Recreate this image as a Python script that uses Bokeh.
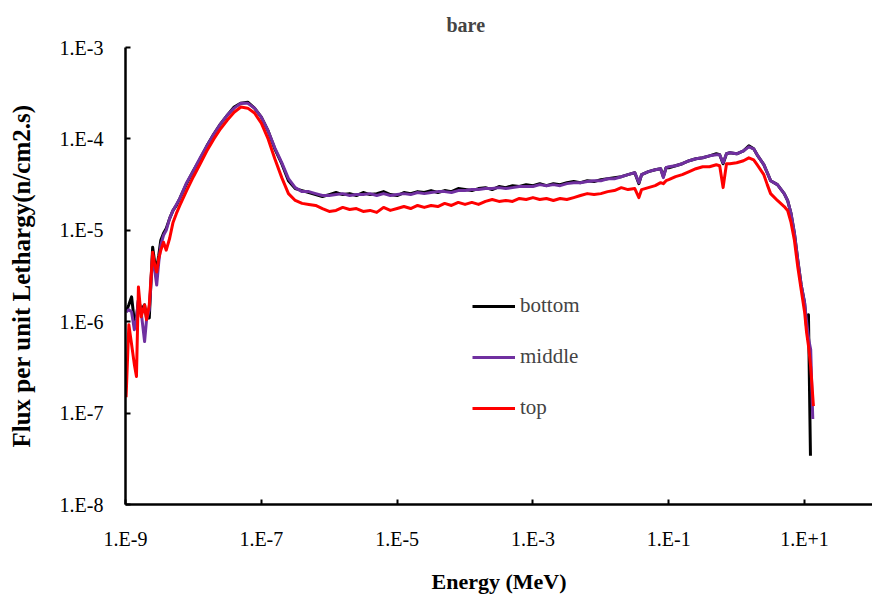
from bokeh.plotting import figure
from bokeh.models import Range1d, FixedTicker, CustomJSTickFormatter, Legend, LegendItem
from bokeh.embed import file_html
from bokeh.resources import INLINE

# Energy grid (MeV), shared by the three series
energy = [
    1.02e-9, 1.12e-9, 1.23e-9, 1.35e-9, 1.45e-9, 1.55e-9, 1.70e-9, 1.91e-9, 2.04e-9, 2.24e-9,
    2.51e-9, 2.69e-9, 2.88e-9, 3.09e-9, 3.31e-9, 3.63e-9, 3.98e-9, 4.47e-9, 5.01e-9, 5.62e-9,
    6.31e-9, 7.94e-9, 1.0e-8, 1.26e-8, 1.58e-8, 2.0e-8, 2.51e-8, 3.16e-8, 3.98e-8, 5.01e-8,
    6.31e-8, 7.94e-8, 1.0e-7, 1.26e-7, 1.58e-7, 2.0e-7, 2.51e-7, 3.16e-7, 3.98e-7, 5.01e-7,
    6.31e-7, 7.94e-7, 1.0e-6, 1.26e-6, 1.58e-6, 2.0e-6, 2.51e-6, 3.16e-6, 3.98e-6, 5.01e-6,
    6.31e-6, 7.94e-6, 1.0e-5, 1.26e-5, 1.58e-5, 2.0e-5, 2.51e-5, 3.16e-5, 3.98e-5, 5.01e-5,
    6.31e-5, 7.94e-5, 1.0e-4, 1.26e-4, 1.58e-4, 2.0e-4, 2.51e-4, 3.16e-4, 3.98e-4, 5.01e-4,
    6.31e-4, 7.94e-4, 1.0e-3, 1.26e-3, 1.58e-3, 2.0e-3, 2.51e-3, 3.16e-3, 3.98e-3, 5.01e-3,
    6.31e-3, 7.94e-3, 1.0e-2, 1.26e-2, 1.58e-2, 2.0e-2, 2.51e-2, 3.16e-2, 3.63e-2, 3.98e-2,
    5.01e-2, 6.31e-2, 7.59e-2, 8.32e-2, 9.12e-2, 0.1, 0.126, 0.158, 0.2, 0.251,
    0.316, 0.398, 0.501, 0.562, 0.631, 0.708, 0.794, 1.0, 1.26, 1.51,
    1.78, 2.0, 2.51, 2.82, 3.16, 3.98, 5.01, 5.62, 6.31, 7.08,
    7.94, 8.91, 10.0,
]

bottom_flux = [
    1.28e-6, 1.53e-6, 1.87e-6, 1.00e-6, 1.10e-6, 1.73e-6, 1.35e-6, 1.53e-6, 1.10e-6, 1.10e-6,
    6.53e-6, 4.49e-6, 3.86e-6, 5.35e-6, 7.78e-6, 9.27e-6, 1.05e-5, 1.35e-5, 1.65e-5, 1.87e-5,
    2.23e-5, 3.24e-5, 4.49e-5, 6.06e-5, 8.39e-5, 1.13e-4, 1.46e-4, 1.82e-4, 2.23e-4, 2.46e-4,
    2.52e-4, 2.17e-4, 1.73e-4, 1.22e-4, 7.78e-5, 5.35e-5, 3.49e-5, 2.86e-5, 2.72e-5, 2.59e-5,
    2.46e-5, 2.34e-5, 2.46e-5, 2.59e-5, 2.46e-5, 2.52e-5, 2.40e-5, 2.59e-5, 2.46e-5, 2.52e-5,
    2.65e-5, 2.46e-5, 2.40e-5, 2.59e-5, 2.52e-5, 2.65e-5, 2.59e-5, 2.72e-5, 2.59e-5, 2.72e-5,
    2.65e-5, 2.86e-5, 2.79e-5, 2.72e-5, 2.86e-5, 2.93e-5, 2.79e-5, 3.01e-5, 2.93e-5, 3.08e-5,
    3.01e-5, 3.16e-5, 3.08e-5, 3.24e-5, 3.08e-5, 3.24e-5, 3.16e-5, 3.32e-5, 3.41e-5, 3.32e-5,
    3.49e-5, 3.41e-5, 3.58e-5, 3.67e-5, 3.77e-5, 3.86e-5, 4.06e-5, 4.27e-5, 3.24e-5, 4.06e-5,
    4.38e-5, 4.60e-5, 4.72e-5, 3.86e-5, 4.84e-5, 4.84e-5, 5.09e-5, 5.35e-5, 5.77e-5, 6.06e-5,
    6.21e-5, 6.53e-5, 6.87e-5, 6.70e-5, 5.35e-5, 6.87e-5, 7.05e-5, 6.87e-5, 7.41e-5, 8.39e-5,
    7.78e-5, 6.70e-5, 5.22e-5, 4.27e-5, 3.49e-5, 3.16e-5, 2.52e-5, 2.12e-5, 1.53e-5, 9.27e-6,
    4.72e-6, 2.52e-6, 1.61e-6,
]

middle_flux = [
    1.28e-6, 1.35e-6, 1.28e-6, 8.18e-7, 1.05e-6, 1.73e-6, 1.28e-6, 6.06e-7, 1.05e-6, 1.35e-6,
    5.35e-6, 3.67e-6, 2.52e-6, 4.49e-6, 6.87e-6, 8.83e-6, 1.00e-5, 1.35e-5, 1.65e-5, 1.92e-5,
    2.23e-5, 3.32e-5, 4.49e-5, 6.21e-5, 8.39e-5, 1.13e-4, 1.46e-4, 1.82e-4, 2.17e-4, 2.46e-4,
    2.46e-4, 2.17e-4, 1.73e-4, 1.22e-4, 7.98e-5, 5.49e-5, 3.67e-5, 2.93e-5, 2.65e-5, 2.65e-5,
    2.52e-5, 2.40e-5, 2.40e-5, 2.46e-5, 2.52e-5, 2.40e-5, 2.46e-5, 2.46e-5, 2.52e-5, 2.40e-5,
    2.52e-5, 2.40e-5, 2.46e-5, 2.52e-5, 2.46e-5, 2.59e-5, 2.52e-5, 2.59e-5, 2.65e-5, 2.65e-5,
    2.59e-5, 2.72e-5, 2.72e-5, 2.79e-5, 2.79e-5, 2.86e-5, 2.86e-5, 2.93e-5, 2.86e-5, 2.93e-5,
    3.01e-5, 3.01e-5, 3.01e-5, 3.16e-5, 3.08e-5, 3.16e-5, 3.08e-5, 3.24e-5, 3.32e-5, 3.32e-5,
    3.41e-5, 3.49e-5, 3.49e-5, 3.67e-5, 3.67e-5, 3.86e-5, 4.06e-5, 4.27e-5, 3.32e-5, 4.06e-5,
    4.38e-5, 4.60e-5, 4.72e-5, 3.77e-5, 4.84e-5, 4.96e-5, 5.09e-5, 5.35e-5, 5.77e-5, 6.06e-5,
    6.21e-5, 6.53e-5, 6.70e-5, 6.70e-5, 5.49e-5, 6.87e-5, 7.05e-5, 6.87e-5, 7.41e-5, 8.18e-5,
    7.78e-5, 6.70e-5, 5.22e-5, 4.27e-5, 3.49e-5, 3.16e-5, 2.52e-5, 2.12e-5, 1.53e-5, 9.27e-6,
    4.72e-6, 2.52e-6, 1.61e-6,
]

top_flux = [
    1.49e-7, 9.27e-7, 5.62e-7, 3.41e-7, 2.52e-7, 2.40e-6, 1.13e-6, 1.53e-6, 1.05e-6, 1.53e-6,
    5.77e-6, 4.17e-6, 3.49e-6, 4.96e-6, 6.06e-6, 7.41e-6, 6.06e-6, 8.18e-6, 1.22e-5, 1.53e-5,
    1.87e-5, 2.72e-5, 3.86e-5, 5.35e-5, 7.41e-5, 1.00e-4, 1.29e-4, 1.61e-4, 1.96e-4, 2.23e-4,
    2.17e-4, 1.92e-4, 1.49e-4, 1.00e-4, 6.06e-5, 3.77e-5, 2.52e-5, 2.12e-5, 1.97e-5, 1.92e-5,
    1.87e-5, 1.73e-5, 1.61e-5, 1.65e-5, 1.78e-5, 1.69e-5, 1.73e-5, 1.61e-5, 1.65e-5, 1.57e-5,
    1.78e-5, 1.65e-5, 1.73e-5, 1.82e-5, 1.73e-5, 1.87e-5, 1.78e-5, 1.87e-5, 1.82e-5, 1.97e-5,
    1.87e-5, 2.02e-5, 1.92e-5, 2.02e-5, 1.92e-5, 2.07e-5, 2.17e-5, 2.07e-5, 2.12e-5, 2.07e-5,
    2.23e-5, 2.17e-5, 2.28e-5, 2.17e-5, 2.23e-5, 2.12e-5, 2.23e-5, 2.17e-5, 2.28e-5, 2.40e-5,
    2.52e-5, 2.46e-5, 2.52e-5, 2.65e-5, 2.72e-5, 2.93e-5, 2.79e-5, 2.86e-5, 2.28e-5, 2.79e-5,
    2.93e-5, 3.08e-5, 3.32e-5, 3.24e-5, 3.49e-5, 3.58e-5, 3.86e-5, 4.06e-5, 4.38e-5, 4.72e-5,
    4.96e-5, 4.96e-5, 5.22e-5, 5.09e-5, 2.93e-5, 5.35e-5, 5.35e-5, 5.49e-5, 5.77e-5, 6.21e-5,
    5.91e-5, 5.22e-5, 4.06e-5, 3.16e-5, 2.52e-5, 2.12e-5, 1.82e-5, 1.65e-5, 1.22e-5, 7.78e-6,
    3.96e-6, 2.23e-6, 1.28e-6,
]

# High-energy cut-off tails (each series ends differently)
bottom_tail_energy = [10.7, 11.4, 12.2]
bottom_tail_flux = [8.61e-7, 1.19e-6, 3.41e-8]
middle_tail_energy = [10.7, 11.5, 12.3, 13.2]
middle_tail_flux = [1.0e-6, 6.37e-7, 4.96e-7, 8.61e-8]
top_tail_energy = [10.7, 11.5, 12.3, 13.5]
top_tail_flux = [7.59e-7, 5.22e-7, 3.16e-7, 1.19e-7]

series_names = ["bottom", "middle", "top"]
series_colors = ["#000000", "#7030A0", "#FF0000"]

x_ticks = [1e-9, 1e-7, 1e-5, 1e-3, 1e-1, 1e1]
x_tick_labels = ["1.E-9", "1.E-7", "1.E-5", "1.E-3", "1.E-1", "1.E+1"]
y_ticks = [1e-8, 1e-7, 1e-6, 1e-5, 1e-4, 1e-3]
y_tick_labels = ["1.E-8", "1.E-7", "1.E-6", "1.E-5", "1.E-4", "1.E-3"]

FONT = "Liberation Serif"

p = figure(width=872, height=596, x_axis_type="log", y_axis_type="log",
           x_range=Range1d(1e-9, 1e2), y_range=Range1d(1e-8, 1e-3),
           output_backend="svg", toolbar_location=None,
           min_border_left=125, min_border_right=0, min_border_top=46, min_border_bottom=90)

p.title.text = "bare"
p.title.text_font = FONT
p.title.text_font_size = "20px"
p.title.text_font_style = "bold"
p.title.align = "left"
p.title.offset = 321
p.title.standoff = 23

p.outline_line_color = None
p.xgrid.visible = False
p.ygrid.visible = False
p.background_fill_color = "white"
p.border_fill_color = "white"

fmt_code = """
let best = 0, bd = Infinity;
for (let i = 0; i < tick_vals.length; i++) {
  const d = Math.abs(Math.log10(tick) - Math.log10(tick_vals[i]));
  if (d < bd) { bd = d; best = i; }
}
return tick_text[best];
"""

for ax, tv, tl in ((p.xaxis[0], x_ticks, x_tick_labels), (p.yaxis[0], y_ticks, y_tick_labels)):
    ax.ticker = FixedTicker(ticks=tv, minor_ticks=[])
    ax.formatter = CustomJSTickFormatter(args=dict(tick_vals=tv, tick_text=tl), code=fmt_code)
    ax.axis_line_width = 2.5
    ax.axis_line_color = "black"
    ax.major_tick_in = 5
    ax.major_tick_out = 0
    ax.major_tick_line_width = 2
    ax.major_tick_line_color = "black"
    ax.minor_tick_line_color = None
    ax.major_label_text_font = FONT
    ax.major_label_text_font_size = "20px"
    ax.major_label_text_color = "black"
    ax.axis_label_text_font = FONT
    ax.axis_label_text_font_style = "bold"
    ax.axis_label_text_color = "black"

p.xaxis.axis_label = "Energy (MeV)"
p.yaxis.axis_label = "Flux per unit Lethargy(n/cm2.s)"
p.xaxis.axis_label_text_font_size = "22px"
p.yaxis.axis_label_text_font_size = "25px"
p.xaxis.major_label_standoff = 23
p.xaxis.axis_label_standoff = 16
p.yaxis.major_label_standoff = 22
p.yaxis.axis_label_standoff = 22

datasets = [
    (energy + bottom_tail_energy, bottom_flux + bottom_tail_flux),
    (energy + middle_tail_energy, middle_flux + middle_tail_flux),
    (energy + top_tail_energy, top_flux + top_tail_flux),
]

items = []
for (xs, ys), name, color in zip(datasets, series_names, series_colors):
    r = p.line(xs, ys, line_color=color, line_width=3, line_join="round")
    items.append(LegendItem(label=name, renderers=[r]))

legend = Legend(items=items, location=(347, 84), orientation="vertical",
                border_line_color=None, background_fill_alpha=0,
                label_text_font=FONT, label_text_font_size="21px",
                glyph_width=43, glyph_height=22, label_height=22,
                label_standoff=5, spacing=26, padding=0, margin=0)
p.add_layout(legend, "center")

open("out.html", "w").write(file_html(p, INLINE))
